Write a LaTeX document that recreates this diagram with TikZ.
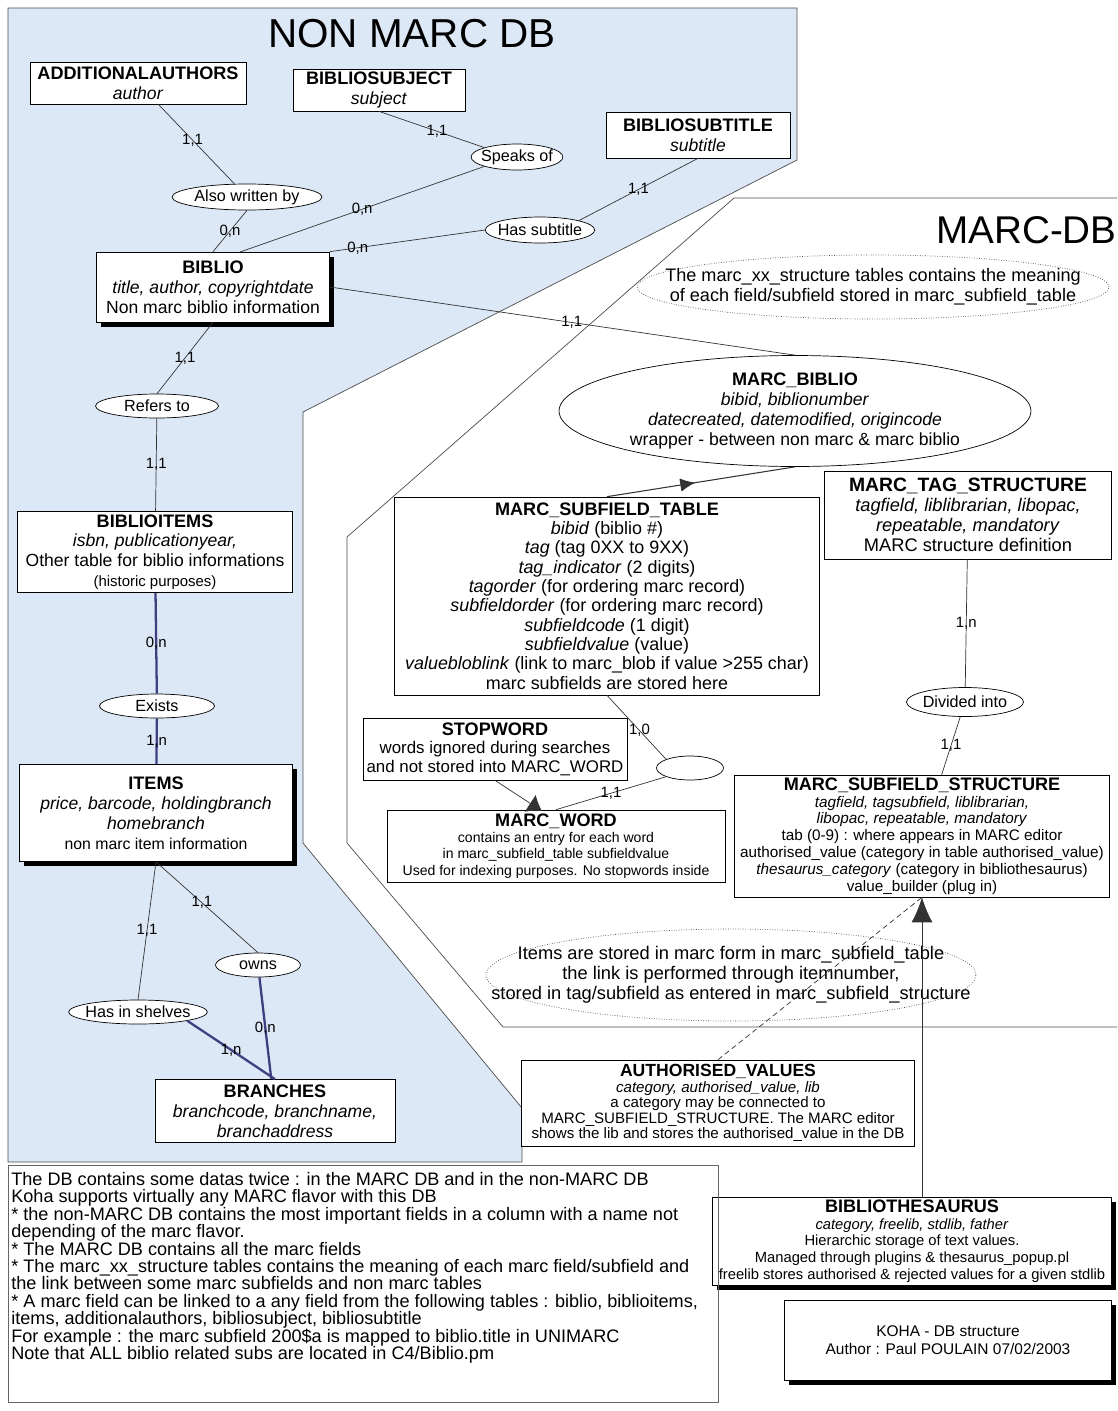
\documentclass[tikz,border=0pt]{standalone}
\usepackage{fontspec}
\setmainfont{Liberation Sans}
\usetikzlibrary{shapes.geometric,arrows.meta,shadows,decorations.markings}

\definecolor{nonmarcbg}{RGB}{221,232,246}
\definecolor{linkblue}{RGB}{62,62,128}
\newcommand{\entname}[1]{{\fontsize{10.3}{11.5}\selectfont\bfseries #1}}

\begin{document}
\begin{tikzpicture}[x=0.02cm, y=-0.02cm,
    entity/.style ={draw, fill=white, align=center, inner xsep=0pt, inner ysep=1pt, font=\fontsize{10}{11.3}\selectfont},
    heavybox/.style ={general shadow={fill=black, shadow xshift=0.09cm, shadow yshift=-0.09cm}},
    relation/.style ={ellipse, draw, fill=white, inner xsep=-2pt, inner ysep=-3pt, font=\fontsize{9.2}{11}\selectfont},
    card/.style ={font=\fontsize{8.5}{9}\selectfont, inner sep=1pt},
    link/.style ={draw=black!80, thin},
    heavylink/.style ={draw=linkblue, line width=1.3pt},
    midarrow/.style ={postaction={decorate}, decoration={markings,
        mark=at position .40 with {\arrow{Bar[width=7pt, line width=1pt]}},
        mark=at position .47 with {\arrow{Latex[length=8pt, width=7pt]}}}},
    notetext/.style ={align=center, font=\fontsize{10.3}{11.3}\selectfont}]
   \useasboundingbox (0,0) rectangle (1117,1411);

   % the two data bases
   \fill[nonmarcbg] (8,8) -- (797,8) -- (797,160) -- (303,412) -- (303,843) -- (522,1108)
      -- (522,1162) -- (8,1162) -- cycle;
   \draw[black!70] (8,8) -- (797,8) -- (797,160) -- (303,412) -- (303,843) -- (522,1108)
      -- (522,1162) -- (8,1162) -- cycle;
   \draw[black!70] (1117,198) -- (734,198) -- (347,537) -- (347,843) -- (503,1027) -- (1117,1027);

   \node[font=\fontsize{23}{26}\selectfont] (nonmarc) at (412,34) {NON MARC DB};
   \node[font=\fontsize{22}{25}\selectfont, anchor=east, inner sep=0pt] (marcdb) at (1117,230) {MARC-DB};

   % non marc tables
   \node[entity, minimum width=4.32cm, minimum height=0.84cm] (addauth) at (138,83)
      {\entname{ADDITIONALAUTHORS}\\\textit{author}};
   \node[entity, minimum width=3.44cm, minimum height=0.84cm] (bibsubj) at (379,90)
      {\entname{BIBLIOSUBJECT}\\\textit{subject}};
   \node[entity, minimum width=3.68cm, minimum height=0.92cm] (bibsubt) at (698,135)
      {\entname{BIBLIOSUBTITLE}\\\textit{subtitle}};
   \node[entity, heavybox, minimum width=4.66cm, minimum height=1.4cm] (biblio) at (213,287)
      {\entname{BIBLIO}\\\textit{title, author, copyrightdate}\\Non marc biblio information};
   \node[entity, minimum width=5.5cm, minimum height=1.62cm] (biblioitems) at (155,552)
      {\entname{BIBLIOITEMS}\\\textit{isbn, publicationyear,}\\Other table for biblio informations\\{\fontsize{8.5}{9.5}\selectfont (historic purposes)}};
   \node[entity, heavybox, minimum width=5.46cm, minimum height=1.94cm] (items) at (156,813)
      {\entname{ITEMS}\\\textit{price, barcode, holdingbranch}\\\textit{homebranch}\\{\fontsize{9}{11}\selectfont non marc item information}};
   \node[entity, minimum width=4.8cm, minimum height=1.26cm] (branches) at (275,1111)
      {\entname{BRANCHES}\\\textit{branchcode, branchname,}\\\textit{branchaddress}};

   \node[relation, minimum width=1.6cm, minimum height=0.52cm] (speaks) at (517,157) {Speaks of};
   \node[relation, minimum width=3cm, minimum height=0.52cm] (alsowr) at (247,197) {Also written by};
   \node[relation, minimum width=1.96cm, minimum height=0.52cm] (hassubt) at (540,230) {Has subtitle};
   \node[relation, minimum width=2.46cm, minimum height=0.48cm] (refers) at (157,406) {Refers to};
   \node[relation, minimum width=2.3cm, minimum height=0.48cm] (exists) at (157,706) {Exists};
   \node[relation, minimum width=1.7cm, minimum height=0.48cm] (owns) at (258,965) {owns};
   \node[relation, minimum width=2.74cm, minimum height=0.48cm] (hasshelves) at (138,1012) {Has in shelves};

   % marc tables
   \node[notetext] (structnote) at (873,287) {The marc\_xx\_structure tables contains the meaning\\of each field/subfield stored in marc\_subfield\_table};
   \draw[black!70, densely dotted] (structnote.center) ellipse [x radius=4.72cm, y radius=0.64cm];
   \node[relation, inner xsep=-5pt, font=\fontsize{10}{11.2}\selectfont, align=center, minimum width=9.44cm, minimum height=2.22cm] (marcbiblio) at (795,411)
      {\entname{MARC\_BIBLIO}\\\textit{bibid, biblionumber}\\\textit{datecreated, datemodified, origincode}\\wrapper - between non marc \& marc biblio};
   \node[entity, minimum width=8.5cm, minimum height=3.96cm, font=\fontsize{10.2}{11}\selectfont] (subfieldtable) at (607,596)
      {\entname{MARC\_SUBFIELD\_TABLE}\\\textit{bibid} (biblio \#)\\\textit{tag} (tag 0XX to 9XX)\\\textit{tag\_indicator} (2 digits)\\\textit{tagorder} (for ordering marc record)\\\textit{subfieldorder} (for ordering marc record)\\\textit{subfieldcode} (1 digit)\\\textit{subfieldvalue} (value)\\\textit{valuebloblink} (link to marc\_blob if value >255 char)\\marc subfields are stored here};
   \node[entity, minimum width=5.74cm, minimum height=1.76cm, font=\fontsize{10.4}{11.4}\selectfont] (tagstruct) at (968,515)
      {{\fontsize{11}{12}\selectfont\bfseries MARC\_TAG\_STRUCTURE}\\\textit{tagfield, liblibrarian, libopac,}\\\textit{repeatable, mandatory}\\MARC structure definition};
   \node[relation, minimum width=2.34cm, minimum height=0.58cm] (divided) at (965,702) {Divided into};
   \node[entity, minimum width=5.28cm, minimum height=1.24cm, font=\fontsize{9.6}{10.5}\selectfont] (stopword) at (495,749)
      {\entname{STOPWORD}\\words ignored during searches\\and not stored into MARC\_WORD};
   \node[relation, minimum width=1.34cm, minimum height=0.48cm] (wordlink) at (690,768) {};
   \node[entity, minimum width=6.76cm, minimum height=1.44cm, font=\fontsize{8}{9.2}\selectfont] (marcword) at (556,846)
      {\entname{MARC\_WORD}\\contains an entry for each word\\in marc\_subfield\_table subfieldvalue\\Used for indexing purposes. No stopwords inside};
   \node[entity, minimum width=7.5cm, minimum height=2.44cm, font=\fontsize{8.7}{9.6}\selectfont] (subfieldstruct) at (922,836)
      {\entname{MARC\_SUBFIELD\_STRUCTURE}\\\textit{tagfield, tagsubfield, liblibrarian,}\\\textit{libopac, repeatable, mandatory}\\tab (0-9) : where appears in MARC editor\\authorised\_value (category in table authorised\_value)\\\textit{thesaurus\_category} (category in bibliothesaurus)\\value\_builder (plug in)};
   \node[notetext, font=\fontsize{10.4}{11.3}\selectfont] (itemsnote) at (731,975) {Items are stored in marc form in marc\_subfield\_table\\the link is performed through itemnumber,\\stored in tag/subfield as entered in marc\_subfield\_structure};
   \draw[black!70, densely dotted] (itemsnote.center) ellipse [x radius=4.9cm, y radius=0.92cm];
   \node[entity, minimum width=7.86cm, minimum height=1.72cm, font=\fontsize{8.6}{8.9}\selectfont] (authvalues) at (718,1103)
      {{\fontsize{10}{11}\selectfont\bfseries AUTHORISED\_VALUES}\\\textit{category, authorised\_value, lib}\\a category may be connected to\\MARC\_SUBFIELD\_STRUCTURE. The MARC editor\\shows the lib and stores the authorised\_value in the DB};
   \node[entity, heavybox, minimum width=7.98cm, minimum height=1.76cm, font=\fontsize{8.4}{9.5}\selectfont] (thesaurus) at (912,1241)
      {\entname{BIBLIOTHESAURUS}\\\textit{category, freelib, stdlib, father}\\Hierarchic storage of text values.\\Managed through plugins \& thesaurus\_popup.pl\\freelib stores authorised \& rejected values for a given stdlib};
   \node[entity, heavybox, minimum width=6.54cm, minimum height=1.6cm, font=\fontsize{8.8}{10.5}\selectfont] (koha) at (948,1340)
      {KOHA - DB structure\\Author : Paul POULAIN 07/02/2003};

   % notes
   \draw[black!60] (8,1165) rectangle (718,1402);
   \node[anchor=north west, align=left, inner sep=0pt, font=\fontsize{10.3}{9.9}\selectfont] (notes) at (11,1172)
      {The DB contains some datas twice : in the MARC DB and in the non-MARC DB\\
       Koha supports virtually any MARC flavor with this DB\\
       * the non-MARC DB contains the most important fields in a column with a name not\\
       depending of the marc flavor.\\
       * The MARC DB contains all the marc fields\\
       * The marc\_xx\_structure tables contains the meaning of each marc field/subfield and\\
       the link between some marc subfields and non marc tables\\
       * A marc field can be linked to a any field from the following tables : biblio, biblioitems,\\
       items, additionalauthors, bibliosubject, bibliosubtitle\\
       For example : the marc subfield 200\$a is mapped to biblio.title in UNIMARC\\
       Note that ALL biblio related subs are located in C4/Biblio.pm};

   % connectors
   \coordinate (biblioin) at (240,252);
   \coordinate (wordin) at (542,811);
   \draw[link] (addauth) to node[card, pos=.45] {1,1} (alsowr);
   \draw[link] (alsowr.south) to node[card] {0,n} (biblio.north);
   \draw[link] (bibsubj.south) to node[card, pos=.55] {1,1} (speaks.north west);
   \draw[link] (speaks.south west) to node[card, pos=.5] {0,n} (biblioin);
   \draw[link] (bibsubt.south) to node[card] {1,1} (hassubt.north east);
   \draw[link] (hassubt.west) to node[card, pos=.82] {0,n} (biblio.north east);
   \draw[link] (biblio.east) to node[card, pos=.52] {1,1} (marcbiblio.north);
   \draw[link] (biblio.south) to node[card] {1,1} (refers.north);
   \draw[link] (refers) to node[card] {1,1} (biblioitems);
   \draw[heavylink] (biblioitems) to node[card] {0,n} (exists);
   \draw[heavylink] (exists) to node[card] {1,n} (items);
   \draw[link] (items.south) to node[card] {1,1} (hasshelves.north);
   \draw[link] (items.south) to node[card, pos=.45] {1,1} (owns.north);
   \draw[heavylink] (owns) to node[card] {0,n} (branches);
   \draw[heavylink] (hasshelves.south east) to node[card] {1,n} (branches.north);
   \draw[link, semithick, midarrow] (subfieldtable.north) to (marcbiblio.south);
   \draw[link] (subfieldtable.south) to node[card, pos=.55] {1,0} (wordlink.north west);
   \draw[link] (wordlink.south west) to node[card] {1,1} (marcword.north);
   \draw[link, -{Latex[length=0.28cm, width=0.4cm]}] (stopword.south) to (wordin);
   \draw[link] (tagstruct) to node[card] {1,n} (divided);
   \draw[link] (divided) to node[card] {1,1} (subfieldstruct);
   \draw[link, densely dashed] (authvalues.north) to (subfieldstruct.south);
   \draw[link, -{Latex[length=0.5cm, width=0.42cm]}] (thesaurus.north -| subfieldstruct.south) to (subfieldstruct.south);
 \end{tikzpicture}
\end{document}
